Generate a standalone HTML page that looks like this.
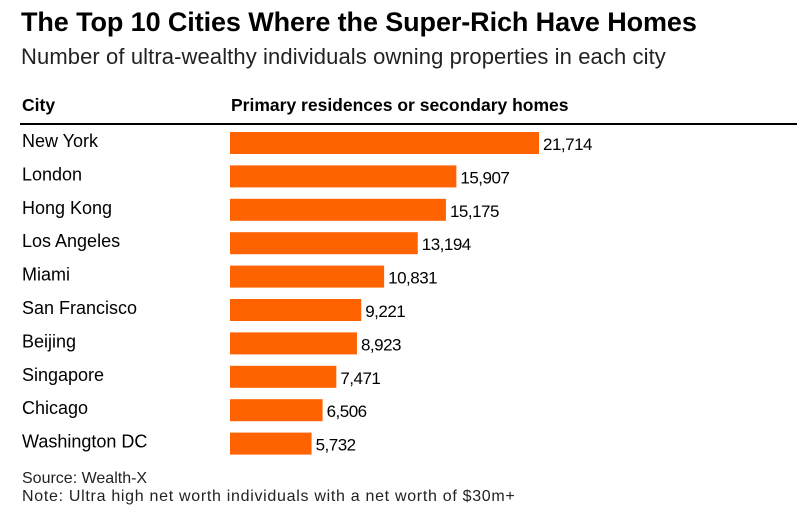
<!DOCTYPE html>
<html><head><meta charset="utf-8"><style>
body{margin:0;background:#fff;font-family:"Liberation Sans",Arial,sans-serif;color:#000;}
#wrap{position:relative;width:811px;height:521px;overflow:hidden;}
.t{position:absolute;white-space:nowrap;}
</style></head><body>
<div id="wrap">
<div class="t" style="left:21px;top:7px;font-size:27px;font-weight:bold;letter-spacing:-0.1px">The Top 10 Cities Where the Super-Rich Have Homes</div>
<div class="t" style="left:21px;top:44px;font-size:22px;color:#222;letter-spacing:0.1px">Number of ultra-wealthy individuals owning properties in each city</div>
<div class="t" style="left:22px;top:95px;font-size:17.5px;font-weight:bold">City</div>
<div class="t" style="left:231px;top:95px;font-size:17.5px;font-weight:bold">Primary residences or secondary homes</div>
<div style="position:absolute;left:20px;top:123px;width:777px;height:2px;background:#000"></div>
<svg id="svg" width="811" height="521" style="position:absolute;left:0;top:0"></svg>
<div class="t" style="left:22px;top:470px;font-size:16px;color:#222">Source: Wealth-X</div>
<div class="t" style="left:22px;top:488px;font-size:16px;color:#222;letter-spacing:0.7px">Note: Ultra high net worth individuals with a net worth of $30m+</div>
</div>
<script>
const cities=["New York","London","Hong Kong","Los Angeles","Miami","San Francisco","Beijing","Singapore","Chicago","Washington DC"];
const values=[21714,15907,15175,13194,10831,9221,8923,7471,6506,5732];
const labels=["21,714","15,907","15,175","13,194","10,831","9,221","8,923","7,471","6,506","5,732"];
const svg=document.getElementById('svg');const NS="http://www.w3.org/2000/svg";
const x0=230,scale=309/21714;
function xs(v){return x0+v*scale;}
function ys(i){return 132+i*33.4;}
cities.forEach((c,i)=>{
 const y=ys(i);
 const t=document.createElementNS(NS,'text');
 
 
 t.setAttribute('x',22);t.setAttribute('y',y+15);t.setAttribute('font-size','18');
 t.setAttribute('font-family','Liberation Sans, Arial, sans-serif');t.textContent=c;svg.appendChild(t);
 const r=document.createElementNS(NS,'rect');
 
 
 r.setAttribute('x',x0);r.setAttribute('y',y);r.setAttribute('width',xs(values[i])-x0);r.setAttribute('height',22);r.setAttribute('fill','#ff6200');svg.appendChild(r);
 const v=document.createElementNS(NS,'text');
 
 
 v.setAttribute('x',xs(values[i])+4);v.setAttribute('y',y+18);v.setAttribute('font-size','17');
 v.setAttribute('font-family','Liberation Sans, Arial, sans-serif');v.setAttribute('letter-spacing','-0.5');v.textContent=labels[i];svg.appendChild(v);
});
</script>
</body></html>
